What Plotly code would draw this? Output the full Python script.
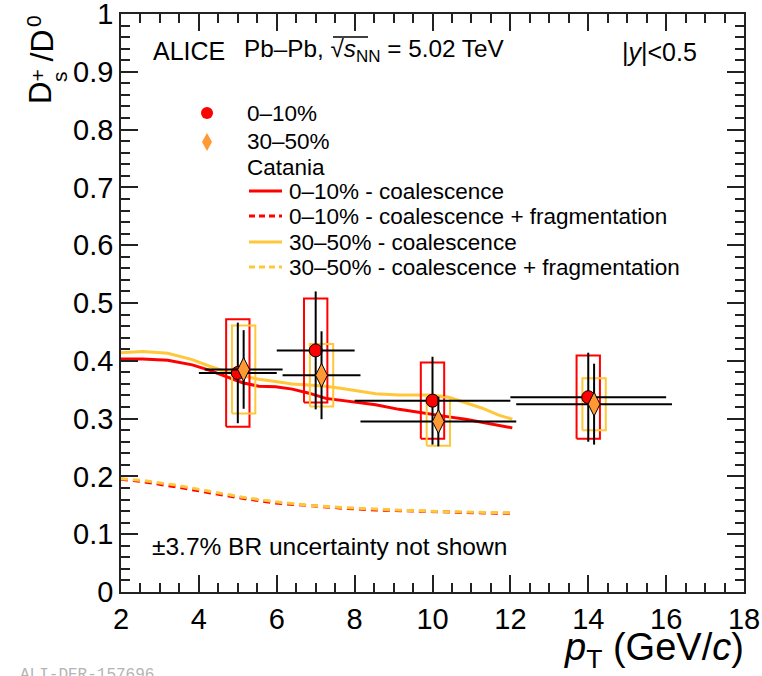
import plotly.graph_objects as go

# ---------------- data ----------------
pt_0010 = [5.0, 7.0, 10.0, 14.0]
ratio_0010 = [0.379, 0.418, 0.331, 0.337]
stat_0010 = [0.087, 0.102, 0.076, 0.077]
syst_0010 = [0.093, 0.090, 0.066, 0.072]

pt_3050 = [5.15, 7.15, 10.15, 14.15]
ratio_3050 = [0.385, 0.375, 0.295, 0.325]
stat_3050 = [0.068, 0.076, 0.043, 0.070]
syst_3050 = [0.076, 0.054, 0.042, 0.045]

pt_binhalf = [1.0, 1.0, 2.0, 2.0]

# Catania model curves
cat_pt = [2.0, 2.55, 3.2, 3.83, 4.26, 4.69, 5.12, 5.54, 5.97, 6.4, 6.83, 7.26,
          7.68, 8.11, 8.54, 9.14, 9.7, 10.0, 10.42, 10.85, 11.28, 11.7, 12.05]
cat_0010_coal = [0.403, 0.403, 0.401, 0.393, 0.384, 0.373, 0.362, 0.356, 0.355, 0.351,
                 0.344, 0.335, 0.331, 0.328, 0.324, 0.316, 0.310, 0.307, 0.303, 0.299,
                 0.294, 0.289, 0.284]
cat_3050_coal = [0.414, 0.416, 0.413, 0.402, 0.391, 0.381, 0.374, 0.368, 0.364, 0.360,
                 0.358, 0.356, 0.352, 0.347, 0.343, 0.341, 0.341, 0.341, 0.337, 0.327,
                 0.318, 0.306, 0.299]
cat_frag_pt = [2.0, 2.55, 3.4, 4.26, 5.12, 5.97, 6.83, 7.68, 8.54, 9.4, 10.25, 11.11, 12.05]
cat_0010_frag = [0.195, 0.191, 0.182, 0.172, 0.162, 0.154, 0.149, 0.145, 0.142, 0.140,
                 0.138, 0.137, 0.136]
cat_3050_frag = [0.196, 0.193, 0.185, 0.174, 0.164, 0.156, 0.150, 0.146, 0.143, 0.141,
                 0.139, 0.138, 0.137]

x_ticks = [2, 4, 6, 8, 10, 12, 14, 16, 18]
y_ticks = [0, 0.1, 0.2, 0.3, 0.4, 0.5, 0.6, 0.7, 0.8, 0.9, 1]

# ---------------- style ----------------
W, H = 762, 676
ML, MR, MT, MB = 121, 18, 14, 84
PW, PH = W - ML - MR, H - MT - MB
RED = "#ff0000"
ORANGE = "#ff9933"
YELLOW = "#ffc73a"
FONT = "Liberation Sans"
BOX_HALF = 0.3


def px(x):
    return (x - ML) / PW


def py(y):
    return (H - MB - y) / PH


fig = go.Figure()

# model curves
fig.add_trace(go.Scatter(x=cat_pt, y=cat_0010_coal, mode="lines",
                         line=dict(color=RED, width=3), showlegend=False))
fig.add_trace(go.Scatter(x=cat_pt, y=cat_3050_coal, mode="lines",
                         line=dict(color=YELLOW, width=3), showlegend=False))
fig.add_trace(go.Scatter(x=cat_frag_pt, y=cat_0010_frag, mode="lines",
                         line=dict(color=RED, width=3, dash="7px,5px"), showlegend=False))
fig.add_trace(go.Scatter(x=cat_frag_pt, y=cat_3050_frag, mode="lines",
                         line=dict(color=YELLOW, width=3, dash="7px,5px"), showlegend=False))


def boxes(xs, ys, es):
    bx, by = [], []
    for x, y, e in zip(xs, ys, es):
        bx += [x - BOX_HALF, x + BOX_HALF, x + BOX_HALF, x - BOX_HALF, x - BOX_HALF, None]
        by += [y - e, y - e, y + e, y + e, y - e, None]
    return bx, by


bx, by = boxes(pt_0010, ratio_0010, syst_0010)
fig.add_trace(go.Scatter(x=bx, y=by, mode="lines", line=dict(color=RED, width=2),
                         showlegend=False))
bx, by = boxes(pt_3050, ratio_3050, syst_3050)
fig.add_trace(go.Scatter(x=bx, y=by, mode="lines", line=dict(color=YELLOW, width=2),
                         showlegend=False))

# data points
fig.add_trace(go.Scatter(
    x=pt_0010, y=ratio_0010, mode="markers",
    marker=dict(symbol="circle", size=13, color=RED, line=dict(color="#000", width=1)),
    error_y=dict(type="data", array=stat_0010, color="#000", thickness=2, width=0),
    error_x=dict(type="data", array=pt_binhalf, color="#000", thickness=2, width=0),
    showlegend=False))
fig.add_trace(go.Scatter(
    x=pt_3050, y=ratio_3050, mode="markers",
    marker=dict(symbol="diamond-tall", size=17, color=ORANGE, line=dict(color="#000", width=1)),
    error_y=dict(type="data", array=stat_3050, color="#000", thickness=2, width=0),
    error_x=dict(type="data", array=pt_binhalf, color="#000", thickness=2, width=0),
    showlegend=False))

# ---------------- annotations ----------------
ann = []


def text(x, y, s, size=22.5, xanchor="left", yanchor="middle", color="#000", family=FONT, angle=0):
    ann.append(dict(x=px(x), y=py(y), xref="paper", yref="paper", text=s, showarrow=False,
                    xanchor=xanchor, yanchor=yanchor, textangle=angle,
                    font=dict(family=family, size=size, color=color)))


text(151, 51, "ALICE", size=25)
text(242, 51, "Pb–Pb, √<i>s</i><sub>NN</sub> = 5.02 TeV", size=24.3)
text(620, 52, "|<i>y</i>|<0.5", size=25)
text(150, 546, "±3.7% BR uncertainty not shown", size=24.5)

text(245, 114, "0–10%")
text(245, 142, "30–50%")
text(245, 168, "Catania")
leg_lines = [("0–10% - coalescence", RED, "solid", 191),
             ("0–10% - coalescence + fragmentation", RED, "dash", 216),
             ("30–50% - coalescence", YELLOW, "solid", 242),
             ("30–50% - coalescence + fragmentation", YELLOW, "dash", 267)]
shapes = []
for lab, col, dsh, yy in leg_lines:
    text(287, yy, lab)
    shapes.append(dict(type="line", xref="paper", yref="paper", x0=px(249), x1=px(282),
                       y0=py(yy), y1=py(yy), line=dict(color=col, width=3,
                                                      dash="6px,4px" if dsh == "dash" else "solid")))
# legend markers
shapes.append(dict(type="circle", xref="paper", yref="paper", x0=px(201), x1=px(213),
                   y0=py(119), y1=py(107), fillcolor=RED, line=dict(width=0)))
shapes.append(dict(type="path", xref="paper", yref="paper",
                   path=f"M {px(207)},{py(133)} L {px(212)},{py(142)} L {px(207)},{py(151)} L {px(202)},{py(142)} Z",
                   fillcolor=ORANGE, line=dict(width=0)))
# overline of the square root
shapes.append(dict(type="line", xref="paper", yref="paper", x0=px(333), x1=px(368),
                   y0=py(37), y1=py(37), line=dict(color="#000", width=1.5)))

# axis titles
text(746, 650, "<i>p</i><sub>T</sub> (GeV/<i>c</i>)", size=38, xanchor="right")
# y title built from pieces (ROOT stacks sub- and superscript)
text(41, 93, "D", size=31, xanchor="center", angle=-90)
text(59, 77, "s", size=21, xanchor="center", angle=-90)
text(37, 75.5, "+", size=21, xanchor="center", angle=-90)
text(41, 45.5, "/D", size=32, xanchor="center", angle=-90)
text(34, 21, "0", size=21, xanchor="center", angle=-90)

# watermark
text(18, 664, "ALI-DER-157696", size=16, color="#b4b4b4", family="Liberation Mono", yanchor="top")

axis_common = dict(showgrid=False, zeroline=False, showline=True, linecolor="#222", linewidth=1.5,
                   mirror="allticks", ticks="inside", tickcolor="#222", tickwidth=1.5,
                   ticklabeloverflow="allow", automargin=False,
                   tickfont=dict(family=FONT, size=29, color="#000"))

fig.update_layout(
    width=W, height=H, margin=dict(l=ML, r=MR, t=MT, b=MB, autoexpand=False),
    paper_bgcolor="white", plot_bgcolor="white", showlegend=False,
    annotations=ann, shapes=shapes,
    xaxis=dict(range=[2, 18], tickvals=x_ticks, ticklen=17,
               minor=dict(dtick=0.5, ticklen=9, ticks="inside", tickcolor="#222", tickwidth=1.5),
               **axis_common),
    yaxis=dict(range=[0, 1], tickvals=y_ticks, ticklen=17,
               minor=dict(dtick=0.02, ticklen=9, ticks="inside", tickcolor="#222", tickwidth=1.5),
               **axis_common),
)

fig.write_html("out.html", config={"displayModeBar": False},
               post_script="document.body.style.margin='0';document.body.style.overflow='hidden';")
